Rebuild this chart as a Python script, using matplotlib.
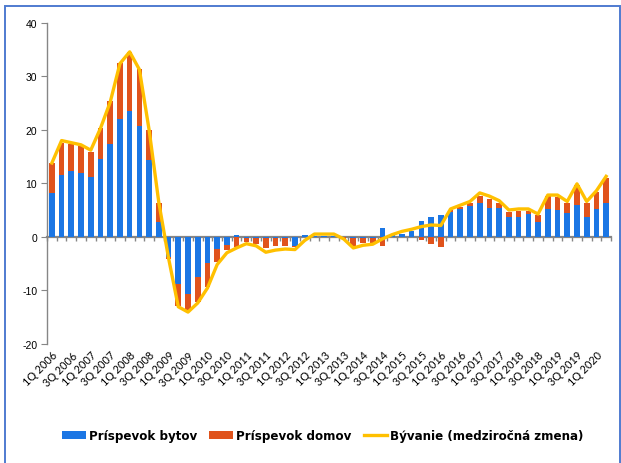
import matplotlib
matplotlib.use("Agg")
import matplotlib.pyplot as plt
from matplotlib.patches import Patch, Rectangle
from matplotlib.lines import Line2D
import numpy as np

quarters = [
    "1Q 2006", "2Q 2006", "3Q 2006", "4Q 2006",
    "1Q 2007", "2Q 2007", "3Q 2007", "4Q 2007",
    "1Q 2008", "2Q 2008", "3Q 2008", "4Q 2008",
    "1Q 2009", "2Q 2009", "3Q 2009", "4Q 2009",
    "1Q 2010", "2Q 2010", "3Q 2010", "4Q 2010",
    "1Q 2011", "2Q 2011", "3Q 2011", "4Q 2011",
    "1Q 2012", "2Q 2012", "3Q 2012", "4Q 2012",
    "1Q 2013", "2Q 2013", "3Q 2013", "4Q 2013",
    "1Q 2014", "2Q 2014", "3Q 2014", "4Q 2014",
    "1Q 2015", "2Q 2015", "3Q 2015", "4Q 2015",
    "1Q 2016", "2Q 2016", "3Q 2016", "4Q 2016",
    "1Q 2017", "2Q 2017", "3Q 2017", "4Q 2017",
    "1Q 2018", "2Q 2018", "3Q 2018", "4Q 2018",
    "1Q 2019", "2Q 2019", "3Q 2019", "4Q 2019",
    "1Q 2020", "2Q 2020",
]

prispevok_bytov = [
    8.2, 11.6, 12.3, 11.9, 11.1, 14.6, 17.3, 22.1, 23.5, 20.7, 14.3, 2.8,
    -3.8, -8.8, -10.7, -7.6, -5.0, -2.3, -1.6, 0.3, -0.2, -0.3, -0.3, -0.2,
    -0.3, -1.7, 0.4, 0.1, 0.1, 0.1, -0.1, -0.2, -0.2, -0.2, 1.6, 0.3,
    0.6, 1.1, 2.9, 3.7, 4.1, 4.7, 5.1, 5.8, 6.25, 5.4, 5.3, 3.6,
    3.75, 4.25, 2.8, 5.1, 5.0, 4.4, 6.0, 3.75, 5.25, 6.3,
]

prispevok_domov = [
    5.6, 5.9, 5.0, 5.0, 4.8, 5.7, 8.1, 10.4, 11.1, 10.6, 5.7, 3.5,
    -0.3, -4.2, -3.0, -4.6, -4.4, -2.5, -0.9, -1.9, -0.8, -1.1, -1.8, -1.6,
    -1.5, -0.2, 0.0, 0.0, 0.0, 0.0, -0.4, -1.5, -0.9, -0.9, -1.8, 0.0,
    0.0, 0.0, -0.7, -1.4, -2.0, 0.3, 0.5, 0.55, 1.45, 1.6, 1.0, 1.1,
    1.05, 0.65, 1.3, 2.6, 2.4, 1.9, 3.7, 2.55, 3.15, 4.6,
]

byvanie = [
    13.8, 18.0, 17.6, 17.2, 16.2, 20.3, 25.2, 32.4, 34.6, 31.3, 20.0, 6.4,
    -4.0, -13.1, -14.1, -12.4, -9.6, -5.2, -3.0, -2.1, -1.3, -1.7, -2.9, -2.5,
    -2.3, -2.4, -0.7, 0.5, 0.5, 0.5, -0.4, -2.1, -1.6, -1.4, -0.4, 0.4,
    1.0, 1.4, 1.9, 2.2, 2.1, 5.2, 5.9, 6.6, 8.2, 7.6, 6.75, 5.0,
    5.2, 5.2, 4.25, 7.8, 7.8, 6.6, 9.9, 6.6, 8.6, 11.3,
]

y_ticks = [-20, -10, 0, 10, 20, 30, 40]
legend_labels = ["Príspevok bytov", "Príspevok domov", "Bývanie (medziročná zmena)"]

BLUE = "#1B76E4"
ORANGE = "#E0531C"
YELLOW = "#FFC000"
AXIS = "#868686"

W, H = 621, 464
fig = plt.figure(figsize=(W / 100, H / 100), dpi=100)
fig.patch.set_facecolor("white")

ax = fig.add_axes([47 / W, 1 - 344.6 / H, 564 / W, (344.6 - 24) / H])

x = np.arange(len(quarters))
blue = np.array(prispevok_bytov)
orange = np.array(prispevok_domov)
bottom_or = np.where(np.sign(orange) == np.sign(blue), blue, 0.0)

ax.bar(x, blue, width=0.58, color=BLUE, zorder=2)
ax.bar(x, orange, width=0.58, bottom=bottom_or, color=ORANGE, zorder=2)
ax.plot(x, byvanie, color=YELLOW, lw=2.4, zorder=3, solid_joinstyle="round")

ax.set_xlim(-0.5, len(quarters) - 0.5)
ax.set_ylim(-20, 40)

for s in ["top", "right", "bottom"]:
    ax.spines[s].set_visible(False)
ax.spines["left"].set_color(AXIS)
ax.spines["left"].set_linewidth(1.0)

ax.set_yticks(y_ticks)
ax.set_yticklabels([str(v) for v in y_ticks], fontsize=7.5, family="Liberation Sans")
ax.tick_params(axis="y", direction="out", length=4, color=AXIS, pad=3)

ax.set_xticks(x[::2])
ax.set_xticklabels(quarters[::2], rotation=45, ha="right", rotation_mode="anchor",
                   fontsize=7.8, family="Lato")
ax.tick_params(axis="x", length=0, pad=4)

# zero axis with tick marks at category boundaries
sec = ax.secondary_xaxis(1 / 3)
sec.set_xticks(np.arange(len(quarters) + 1) - 0.5)
sec.set_xticklabels([])
sec.tick_params(axis="x", direction="out", length=3, color=AXIS, width=1)
sec.spines["bottom"].set_color(AXIS)
sec.spines["bottom"].set_linewidth(1.6)

handles = [Patch(facecolor=BLUE), Patch(facecolor=ORANGE), Line2D([0], [0], color=YELLOW, lw=2.4)]
leg = fig.legend(handles, legend_labels, loc="center", bbox_to_anchor=(323 / W, 1 - 437 / H),
                 ncol=3, frameon=False, handlelength=2.0, handleheight=0.68, handletextpad=0.25,
                 columnspacing=1.0, prop={"family": "DejaVu Sans", "weight": "bold", "size": 8.6})

# outer blue frame
fig.add_artist(Rectangle((5 / W, -0.05), (620 - 5) / W, 1 - 7 / H + 0.05,
                         transform=fig.transFigure, fill=False, edgecolor="#4F7BD0", lw=1.4))

fig.savefig("out.png", dpi=100)
